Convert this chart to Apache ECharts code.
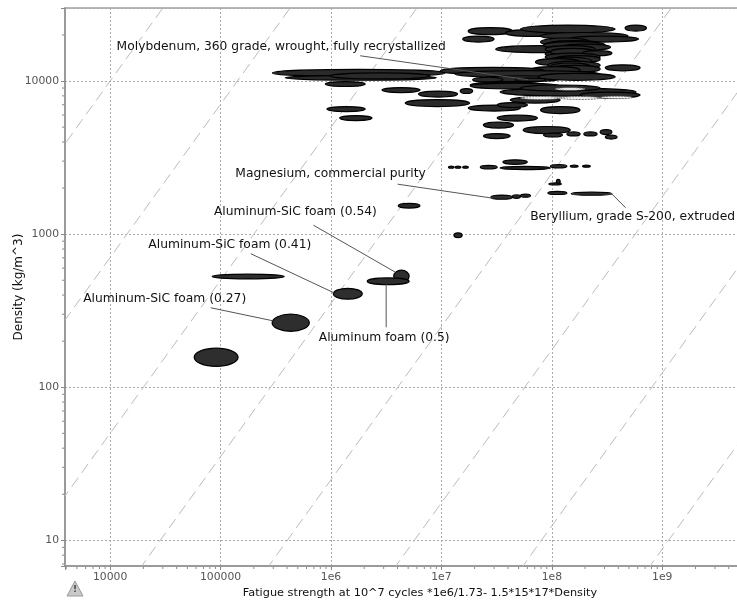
<!DOCTYPE html>
<html>
<head>
<meta charset="utf-8">
<script src="https://cdn.jsdelivr.net/npm/echarts@6/dist/echarts.min.js"></script>
<style>html,body{margin:0;padding:0;background:#fff}#c{width:737px;height:604px}</style>
</head>
<body>
<div id="c"></div>
<script>
// ---------- axes ----------
const xMin = 3900, xMax = 1.05e10;
const yMin = 6.8, yMax = 30000;
const xTickValues = [1e4, 1e5, 1e6, 1e7, 1e8, 1e9];
const xTickLabels = ['10000', '100000', '1e6', '1e7', '1e8', '1e9'];
const yTickValues = [10, 100, 1000, 10000];
const yTickLabels = ['10', '100', '1000', '10000'];
const xAxisName = 'Fatigue strength at 10^7 cycles *1e6/1.73- 1.5*15*17*Density';
const yAxisName = 'Density (kg/m^3)';

// guide lines: constant ratio strength / density
const guideRatios = [1, 14.2, 200, 2840, 40200, 569000, 8.05e6, 1.14e8];

// ---------- materials: [strength low, strength high, density low, density high] ----------
const labelNames = [
  'Molybdenum, 360 grade, wrought, fully recrystallized',
  'Magnesium, commercial purity',
  'Beryllium, grade S-200, extruded',
  'Aluminum-SiC foam (0.54)',
  'Aluminum-SiC foam (0.41)',
  'Aluminum-SiC foam (0.27)',
  'Aluminum foam (0.5)'
];
const labelRanges = [
  [4.66e7, 8.7e7, 9950, 10450],
  [2.8e7, 4.4e7, 1690, 1800],
  [1.5e8, 3.5e8, 1795, 1880],
  [3.7e6, 5.1e6, 485, 582],
  [1.05e6, 1.92e6, 376, 443],
  [2.93e5, 6.36e5, 232, 300],
  [2.13e6, 5.1e6, 468, 518]
];

const highDensityRanges = [
  [1.75e7, 4.4e7, 20100, 22300],
  [3.8e7, 1.19e8, 19550, 21700],
  [5.2e7, 3.75e8, 20570, 23200],
  [4.6e8, 7.2e8, 21200, 23200],
  [1.56e7, 3.0e7, 17970, 19660],
  [7.9e7, 4.9e8, 18700, 20760],
  [1.4e8, 6.1e8, 17970, 19660],
  [7.9e7, 2.23e8, 16950, 19100],
  [9.2e7, 2.74e8, 16500, 18340],
  [3.1e7, 2.0e8, 15320, 17020],
  [8.4e7, 3.05e8, 16270, 18080],
  [1.19e8, 3.4e8, 15920, 17420],
  [8.7e7, 2.47e8, 15320, 17020],
  [8.7e7, 2.6e8, 14230, 15810],
  [9.7e7, 2.47e8, 14700, 16340],
  [1.9e8, 3.5e8, 14640, 15780],
  [8.7e7, 2.74e8, 13510, 15240],
  [1.07e8, 2.74e8, 13190, 14650],
  [8.7e7, 2.3e8, 12710, 14340],
  [7.1e7, 1.8e8, 12620, 14020],
  [9.2e7, 2.74e8, 11960, 13490],
  [9.7e7, 2.23e8, 11810, 13120],
  [9.7e7, 2.74e8, 11390, 12650],
  [3.05e8, 6.3e8, 11660, 12760],
  [6.4e7, 1.8e8, 11200, 12440],
  [2.95e5, 1.08e7, 10720, 11910],
  [3.85e5, 9.0e6, 10120, 10900],
  [9.8e5, 7.9e6, 10330, 11300],
  [9.75e6, 8.7e7, 11050, 12280],
  [1.33e7, 2.74e8, 10530, 11700],
  [2.25e7, 1.19e8, 9900, 10830],
  [7.5e7, 3.75e8, 10100, 11230],
  [1.92e7, 3.6e7, 9830, 10590],
  [8.9e5, 2.04e6, 9210, 9920],
  [2.9e6, 6.4e6, 8410, 9060],
  [6.2e6, 1.4e7, 7860, 8600],
  [1.48e7, 1.92e7, 8290, 8930],
  [1.82e7, 8.7e7, 9000, 9840],
  [1.82e7, 1.19e8, 8870, 9690],
  [3.4e7, 5.8e8, 7980, 8990],
  [5.2e7, 2.74e8, 8600, 9420],
  [1.8e8, 6.3e8, 7740, 8470],
  [4.2e7, 1.19e8, 7180, 7860],
  [4.7e6, 1.8e7, 6810, 7570],
  [1.75e7, 5.2e7, 6370, 6970],
  [3.2e7, 6.0e7, 6720, 7230],
  [7.9e7, 1.8e8, 6130, 6810],
  [9.2e5, 2.04e6, 6320, 6810],
  [1.2e6, 2.35e6, 5520, 5950],
  [3.2e7, 7.4e7, 5480, 5990],
  [2.4e7, 4.5e7, 4930, 5400],
  [5.5e7, 1.47e8, 4540, 5050],
  [2.4e7, 4.2e7, 4210, 4540],
  [8.4e7, 1.25e8, 4310, 4570],
  [1.37e8, 1.8e8, 4380, 4650],
  [1.95e8, 2.57e8, 4380, 4650],
  [2.74e8, 3.5e8, 4470, 4820],
  [3.05e8, 3.9e8, 4180, 4430]
];
const lightRanges = [
  [5.2e7, 1.19e8, 7580, 7920],
  [1.19e8, 2.74e8, 7580, 7920],
  [2.74e8, 5.4e8, 7680, 7970],
  [1.07e8, 2.0e8, 8700, 9050]
];
const midDensityRanges = [
  [4.4e7, 5.2e7, 1715, 1805],
  [5.2e7, 6.4e7, 1745, 1825],
  [9.2e7, 1.37e8, 1815, 1905],
  [1.1e8, 1.19e8, 2110, 2280],
  [9.4e7, 1.22e8, 2095, 2160],
  [1.16e7, 1.3e7, 2700, 2780],
  [1.33e7, 1.5e7, 2700, 2780],
  [1.56e7, 1.75e7, 2700, 2780],
  [2.25e7, 3.2e7, 2670, 2810],
  [3.4e7, 9.7e7, 2640, 2770],
  [3.6e7, 6.0e7, 2860, 3060],
  [9.7e7, 1.37e8, 2710, 2850],
  [1.47e8, 1.73e8, 2740, 2820],
  [1.9e8, 2.23e8, 2740, 2820],
  [4.06e6, 6.4e6, 1480, 1590],
  [1.3e7, 1.54e7, 950, 1020]
];
const lowDensityRanges = [
  [5.77e4, 1.44e5, 137, 180],
  [8.4e4, 3.77e5, 510, 548]
];

// ---------- layout of annotations (pixel offsets from the material centre) ----------
const labelLayout = [
  { text: [-249, -33], from: [-170, -24], to: [-2, 0] },
  { text: [-171, -23], from: [-104, -13], to: [-9, 1] },
  { text: [41, 23], from: [34, 14], to: [19, -1] },
  { text: [-106, -64], from: [-88, -51], to: [-6, -4] },
  { text: [-118, -49], from: [-97, -40], to: [-14, -1] },
  { text: [-126, -24], from: [-80, -15], to: [-18, -2] },
  { text: [-4, 57], from: [-2, 46], to: [-2, 3] }
];

const FONT = 'DejaVu Sans';

function makeFormatter(vals, labels) {
  return function (v) {
    for (let i = 0; i < vals.length; i++) {
      if (Math.abs(Math.log10(v) - Math.log10(vals[i])) < 1e-6) return labels[i];
    }
    return '';
  };
}

// minor tick decoration positions (2..9 x decade)
const xMinor = [], yMinor = [];
for (let e = 3; e < 10; e++) for (let m = 2; m < 10; m++) {
  const v = m * Math.pow(10, e);
  if (v > xMin && v < xMax) xMinor.push([v, yMin]);
}
for (let e = 0; e < 5; e++) for (let m = 2; m < 10; m++) {
  const v = m * Math.pow(10, e);
  if (v > yMin && v < yMax) yMinor.push([xMin, v]);
}

function ellipseRender(fill, stroke, dash, lw) {
  return function (params, api) {
    const p1 = api.coord([api.value(0), api.value(2)]);
    const p2 = api.coord([api.value(1), api.value(3)]);
    return {
      type: 'ellipse',
      shape: {
        cx: (p1[0] + p2[0]) / 2, cy: (p1[1] + p2[1]) / 2,
        rx: Math.max(1, Math.abs(p2[0] - p1[0]) / 2), ry: Math.max(1, Math.abs(p2[1] - p1[1]) / 2)
      },
      style: { fill: fill, stroke: stroke, lineWidth: lw, lineDash: dash }
    };
  };
}

function ellipseSeries(data, fill, stroke, dash, lw) {
  return {
    type: 'custom', clip: true, silent: true, z: 3,
    data: data, encode: { x: [0, 1], y: [2, 3] },
    renderItem: ellipseRender(fill, stroke, dash, lw)
  };
}

const chart = echarts.init(document.getElementById('c'), null, { renderer: 'canvas' });

const option = {
  animation: false,
  backgroundColor: '#ffffff',
  grid: { left: 65, top: 8, right: -38, bottom: 38, show: true, borderColor: '#6f6f6f', borderWidth: 1, containLabel: false, outerBoundsMode: 'none' },
  xAxis: {
    type: 'log', logBase: 10, min: xMin, max: xMax,
    name: xAxisName, nameLocation: 'middle', nameGap: 19,
    nameTextStyle: { color: '#111', fontFamily: FONT, fontSize: 11.3 },
    axisLine: { show: true, lineStyle: { color: '#9a9a9a', width: 2 } },
    axisTick: { show: true, length: 4, lineStyle: { color: '#888' } },
    axisLabel: { color: '#555', fontFamily: FONT, fontSize: 10.8, margin: 6, formatter: makeFormatter(xTickValues, xTickLabels) },
    splitLine: { show: true, lineStyle: { color: '#aaaaaa', width: 1, type: [2, 2] } }
  },
  yAxis: {
    type: 'log', logBase: 10, min: yMin, max: yMax,
    name: yAxisName, nameLocation: 'middle', nameGap: 40, nameRotate: 90, nameMoveOverlap: false,
    nameTextStyle: { color: '#111', fontFamily: FONT, fontSize: 12 },
    axisLine: { show: true, lineStyle: { color: '#9a9a9a', width: 2 } },
    axisTick: { show: true, length: 4, lineStyle: { color: '#888' } },
    axisLabel: { color: '#555', fontFamily: FONT, fontSize: 10.8, margin: 6, formatter: makeFormatter(yTickValues, yTickLabels) },
    splitLine: { show: true, lineStyle: { color: '#aaaaaa', width: 1, type: [2, 2] } }
  },
  graphic: [
    { type: 'polygon', shape: { points: [[67, 596], [83, 596], [75, 581]] }, style: { fill: '#c9c9c9', stroke: '#9a9a9a', lineWidth: 1 } },
    { type: 'text', x: 75, y: 590, style: { text: '!', fill: '#444', font: 'bold 9px DejaVu Sans', align: 'center', verticalAlign: 'middle' } }
  ],
  series: [
    {
      type: 'custom', clip: true, silent: true, z: 1,
      data: guideRatios.map(function (c) { return [c]; }),
      renderItem: function (params, api) {
        const c = api.value(0);
        const p1 = api.coord([c * 1, 1]);
        const p2 = api.coord([c * 1e5, 1e5]);
        return { type: 'line', shape: { x1: p1[0], y1: p1[1], x2: p2[0], y2: p2[1] },
          style: { stroke: '#bcbcbc', lineWidth: 1, lineDash: [11, 6] } };
      }
    },
    ellipseSeries(highDensityRanges, '#2a2a2a', '#000', null, 1.2),
    ellipseSeries(lightRanges, '#f2f2f2', '#555', [2, 1], 0.8),
    ellipseSeries(midDensityRanges, '#2a2a2a', '#000', null, 1.2),
    ellipseSeries(lowDensityRanges, '#2e2e2e', '#000', null, 1.2),
    ellipseSeries(labelRanges, '#2e2e2e', '#000', null, 1.2),
    {
      type: 'custom', clip: false, silent: true, z: 5,
      data: labelRanges, encode: { x: [0, 1], y: [2, 3] },
      renderItem: function (params, api) {
        const i = params.dataIndex;
        const p1 = api.coord([api.value(0), api.value(2)]);
        const p2 = api.coord([api.value(1), api.value(3)]);
        const cx = (p1[0] + p2[0]) / 2, cy = (p1[1] + p2[1]) / 2;
        const L = labelLayout[i];
        return {
          type: 'group',
          children: [
            { type: 'line', shape: { x1: cx + L.from[0], y1: cy + L.from[1], x2: cx + L.to[0], y2: cy + L.to[1] },
              style: { stroke: '#555', lineWidth: 1 } },
            { type: 'text', x: cx + L.text[0], y: cy + L.text[1],
              style: { text: labelNames[i], fill: '#111', font: '12.3px "DejaVu Sans"', align: 'center', verticalAlign: 'middle' } }
          ]
        };
      }
    },
    {
      type: 'custom', clip: false, silent: true, z: 4,
      data: xMinor,
      renderItem: function (params, api) {
        const p = api.coord([api.value(0), api.value(1)]);
        return { type: 'line', shape: { x1: p[0], y1: p[1] + 1, x2: p[0], y2: p[1] + 3 }, style: { stroke: '#888', lineWidth: 1 } };
      }
    },
    {
      type: 'custom', clip: false, silent: true, z: 4,
      data: yMinor,
      renderItem: function (params, api) {
        const p = api.coord([api.value(0), api.value(1)]);
        return { type: 'line', shape: { x1: p[0] - 3, y1: p[1], x2: p[0] - 1, y2: p[1] }, style: { stroke: '#888', lineWidth: 1 } };
      }
    }
  ]
};
chart.setOption(option);
</script>
</body>
</html>
